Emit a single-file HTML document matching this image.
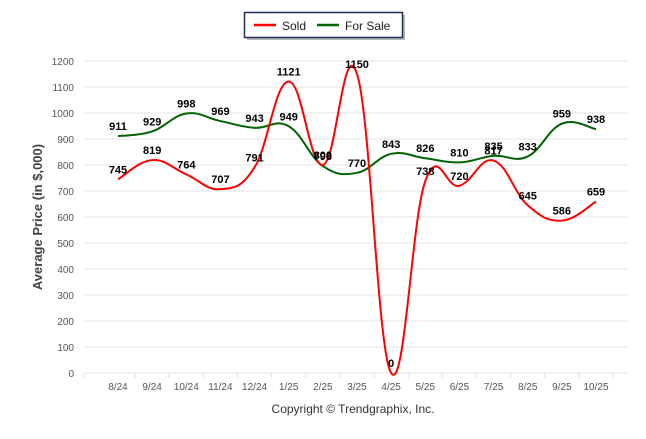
<!DOCTYPE html>
<html><head><meta charset="utf-8"><style>
body{margin:0;background:#fff;width:646px;height:434px;overflow:hidden;font-family:"Liberation Sans",sans-serif}
</style></head><body>
<svg width="646" height="434" xmlns="http://www.w3.org/2000/svg">
<g id="grid"></g>
<g id="axes"></g>
<g id="series"></g>
<g id="labels"></g>
<text x="42" y="217" transform="rotate(-90 42 217)" text-anchor="middle" font-size="13" font-weight="bold" fill="#444">Average Price (in $,000)</text>
<text x="353" y="413" text-anchor="middle" font-size="12" fill="#333">Copyright © Trendgraphix, Inc.</text>
<g>
<rect x="247" y="15" width="158" height="25" fill="#888" opacity="0.6"/>
<rect x="244.5" y="12.5" width="158" height="25" fill="#fff" stroke="#1f2f5a" stroke-width="1.5"/>
<line x1="254" y1="25" x2="276" y2="25" stroke="#f00" stroke-width="2.5"/>
<text x="282" y="30" font-size="12" fill="#222">Sold</text>
<line x1="317" y1="25" x2="339" y2="25" stroke="#006400" stroke-width="2.5"/>
<text x="345" y="30" font-size="12" fill="#222">For Sale</text>
</g>
</svg>
<script>
const categories=["8/24","9/24","10/24","11/24","12/24","1/25","2/25","3/25","4/25","5/25","6/25","7/25","8/25","9/25","10/25"];
const soldValues=[745,819,764,707,791,1121,800,1150,0,738,720,817,645,586,659];
const forSaleValues=[911,929,998,969,943,949,796,770,843,826,810,835,833,959,938];
const yTicks=[0,100,200,300,400,500,600,700,800,900,1000,1100,1200];
const NS="http://www.w3.org/2000/svg";
const L=84,R=629,Y0=373,Y1=61;
const xs=i=>118+i*(596-118)/(categories.length-1);
const ys=v=>Y0-(v/1200)*(Y0-Y1);
function mk(t,a,p){const e=document.createElementNS(NS,t);for(const k in a)e.setAttribute(k,a[k]);p.appendChild(e);return e;}
const grid=document.getElementById('grid'),axes=document.getElementById('axes'),ser=document.getElementById('series'),lab=document.getElementById('labels');
yTicks.forEach(v=>{
 const g=mk('line',{x1:L,x2:R,y1:ys(v),y2:ys(v),stroke:'#e6e6e6'},grid);
 
 
 const t=mk('text',{x:74,y:ys(v)+4,'text-anchor':'end','font-size':'10',fill:'#555'},axes);t.textContent=v;
 
 
});
categories.forEach((c,i)=>{
 const t=mk('text',{x:xs(i),y:390,'text-anchor':'middle','font-size':'10',fill:'#555'},axes);t.textContent=c;
 
 
 mk('line',{x1:xs(i)+17,x2:xs(i)+17,y1:Y0,y2:Y0+5,stroke:'#ddd'},axes);
});
mk('line',{x1:L,x2:L,y1:Y0,y2:Y0+5,stroke:'#ddd'},axes);
function path(vals){
 const p=vals.map((v,i)=>[xs(i),ys(v)]);let d='M'+p[0][0]+','+p[0][1];
 const k=0.2;
 for(let i=0;i<p.length-1;i++){
  const a=p[i-1]||p[i],b=p[i],c=p[i+1],e=p[i+2]||c;
  const c1=[b[0]+(c[0]-a[0])*k, b[1]+(c[1]-a[1])*k];
  const c2=[c[0]-(e[0]-b[0])*k, c[1]-(e[1]-b[1])*k];
  d+=` C${c1[0]},${c1[1]} ${c2[0]},${c2[1]} ${c[0]},${c[1]}`;
 }
 return d;
}
const ps=mk('path',{d:path(forSaleValues),fill:'none',stroke:'#006400','stroke-width':2},ser);


const pl=mk('path',{d:path(soldValues),fill:'none',stroke:'#f00','stroke-width':2},ser);


function labels(vals,name){vals.forEach((v,i)=>{
 const t=mk('text',{x:xs(i),y:ys(v)-6,'text-anchor':'middle','font-size':'11','font-weight':'bold',fill:'#000'},lab);t.textContent=v;
 
 
});}
labels(forSaleValues,'for-sale');labels(soldValues,'sold');
</script>
</body></html>
